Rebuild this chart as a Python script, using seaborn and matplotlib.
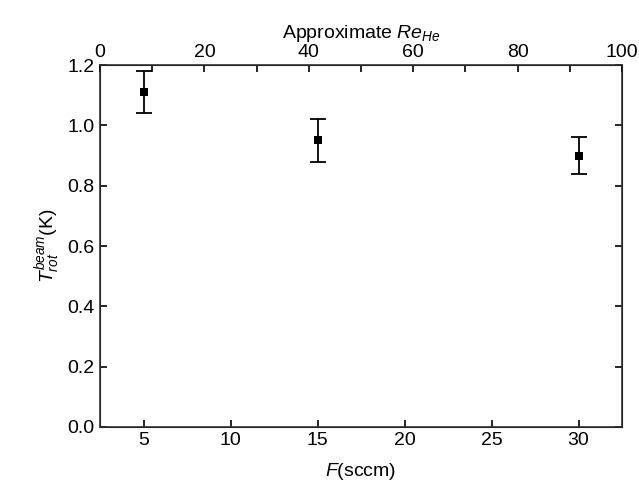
import numpy as np
import pandas as pd
import seaborn as sns
import matplotlib.pyplot as plt

# data
flow_sccm = [5, 15, 30]
t_rot = [1.11, 0.95, 0.90]
t_err = [0.07, 0.07, 0.06]

df = pd.DataFrame({"flow": flow_sccm, "t_rot": t_rot, "err": t_err})

sns.set_style("ticks")
plt.rcParams['font.family'] = ['Liberation Sans', 'DejaVu Sans']
plt.rcParams['mathtext.fontset'] = 'custom'
plt.rcParams['mathtext.rm'] = 'Liberation Sans'
plt.rcParams['mathtext.it'] = 'Liberation Sans:italic'
plt.rcParams['mathtext.cal'] = 'Liberation Sans:italic'
plt.rcParams['xtick.direction'] = 'in'
plt.rcParams['ytick.direction'] = 'in'
plt.rcParams['text.color'] = 'black'
plt.rcParams['axes.labelcolor'] = 'black'
plt.rcParams['xtick.color'] = 'black'
plt.rcParams['ytick.color'] = 'black'

fig = plt.figure(figsize=(6.39, 4.97), dpi=100)
ax = fig.add_axes([0.1565, 0.141, 0.817, 0.728])

ax.errorbar(df["flow"], df["t_rot"], yerr=df["err"], fmt="none",
            ecolor="black", elinewidth=1.3, capsize=6, capthick=1.3, zorder=2)
sns.scatterplot(data=df, x="flow", y="t_rot", marker="s", color="black",
                s=40, edgecolor="black", linewidth=0, ax=ax, zorder=3)

ax.set_xlim(2.5, 32.5)
ax.set_ylim(0, 1.2)
ax.set_xticks([5, 10, 15, 20, 25, 30])
ax.set_yticks(np.arange(0, 1.21, 0.2))
ax.set_yticklabels([f"{v:.1f}" for v in np.arange(0, 1.21, 0.2)])
ax.tick_params(labelsize=14, length=5, width=1.2, right=True, pad=4)
ax.set_xlabel(r"$\mathcal{F}$(sccm)", fontsize=14, labelpad=8)
ax.set_ylabel(r"$T_{rot}^{beam}$(K)", fontsize=14, labelpad=4)
for sp_ in ax.spines.values():
    sp_.set_linewidth(1.2)
    sp_.set_color("#333333")

# top axis: approximate Reynolds number
ax2 = ax.twiny()
ax2.set_xlim(0, 100)
ax2.set_xticks([0, 20, 40, 60, 80, 100])
ax2.set_xticks([10, 30, 50, 70, 90], minor=True)
ax2.tick_params(which="both", labelsize=14, length=5, width=1.2,
                direction="in", pad=3)
ax2.set_xlabel(r"Approximate $Re_{He}$", fontsize=14, labelpad=4)

fig.savefig("out.png", dpi=100)
